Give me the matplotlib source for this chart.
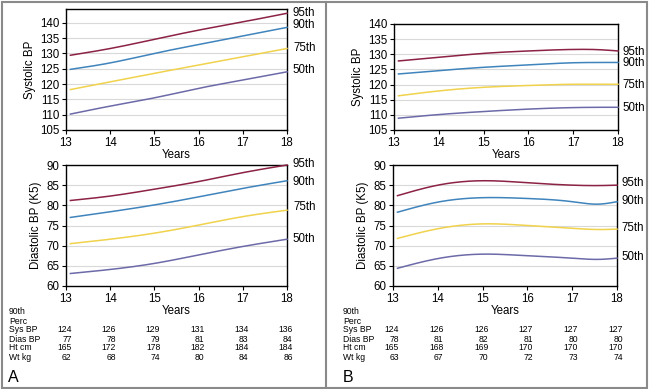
import numpy as np
import matplotlib
matplotlib.use('Agg')
import matplotlib.pyplot as plt
from matplotlib import transforms
from matplotlib.lines import Line2D

plt.rcParams['font.family'] = ['Liberation Sans', 'DejaVu Sans']

# ---- data ----
PERCENTILES = ['95th', '90th', '75th', '50th']
COLORS = ['#8c2244', '#3f84bc', '#f0d24c', '#6c6aa8']

AGES_A = [13.1, 14, 15, 16, 17, 18]
SYS_A = [
    [129.4, 131.6, 134.6, 137.6, 140.3, 143.1],
    [124.8, 126.9, 130.0, 132.9, 135.7, 138.5],
    [118.2, 120.7, 123.5, 126.2, 128.9, 131.6],
    [110.2, 112.8, 115.5, 118.6, 121.3, 124.0],
]
DIA_A = [
    [81.2, 82.3, 84.0, 85.9, 88.1, 90.0],
    [77.0, 78.4, 80.1, 82.1, 84.2, 86.1],
    [70.5, 71.6, 73.1, 75.1, 77.2, 78.8],
    [63.1, 64.1, 65.6, 67.7, 69.8, 71.6],
]

AGES_B = [13.1, 14, 15, 16, 17, 17.6, 18]
SYS_B = [
    [127.8, 129.0, 130.3, 131.1, 131.6, 131.5, 131.1],
    [123.5, 124.6, 125.7, 126.5, 127.2, 127.3, 127.3],
    [116.3, 117.9, 119.1, 119.7, 120.1, 120.1, 120.1],
    [108.9, 110.1, 111.1, 111.9, 112.4, 112.5, 112.5],
]
DIA_B = [
    [82.4, 85.0, 86.1, 85.6, 85.0, 84.9, 85.0],
    [78.3, 80.8, 81.9, 81.7, 80.9, 80.3, 80.9],
    [71.8, 74.2, 75.4, 75.0, 74.3, 74.0, 74.1],
    [64.4, 66.8, 67.9, 67.5, 66.9, 66.6, 66.9],
]

# label heights of the percentile names to the right of each panel
LBL_SYS_A = [143.2, 139.2, 131.7, 124.5]
LBL_DIA_A = [90.2, 85.9, 79.6, 71.7]
LBL_SYS_B = [130.8, 127.2, 119.9, 112.4]
LBL_DIA_B = [85.5, 81.0, 74.4, 67.1]

TABLE_YEARS = [13, 14, 15, 16, 17, 18]
ROW_NAMES = ['Sys BP', 'Dias BP', 'Ht cm', 'Wt kg']
TABLE_A = [
    [124, 126, 129, 131, 134, 136],
    [77, 78, 79, 81, 83, 84],
    [165, 172, 178, 182, 184, 184],
    [62, 68, 74, 80, 84, 86],
]
TABLE_B = [
    [124, 126, 126, 127, 127, 127],
    [78, 81, 82, 81, 80, 80],
    [165, 168, 169, 170, 170, 170],
    [63, 67, 70, 72, 73, 74],
]

FS = 8.3     # ticks, axis labels, percentile names
FS_TAB = 6.2  # table below the charts


def smooth(x, y, n=200):
    """Natural cubic spline through the points, for drawing only."""
    x = np.asarray(x, float)
    y = np.asarray(y, float)
    k = len(x)
    h = np.diff(x)
    A = np.zeros((k, k))
    r = np.zeros(k)
    A[0, 0] = A[-1, -1] = 1
    for i in range(1, k - 1):
        A[i, i - 1] = h[i - 1]
        A[i, i] = 2 * (h[i - 1] + h[i])
        A[i, i + 1] = h[i]
        r[i] = 6 * ((y[i + 1] - y[i]) / h[i] - (y[i] - y[i - 1]) / h[i - 1])
    M = np.linalg.solve(A, r)
    xs = np.linspace(x[0], x[-1], n)
    idx = np.clip(np.searchsorted(x, xs) - 1, 0, k - 2)
    x0, x1 = x[idx], x[idx + 1]
    hh = x1 - x0
    a = (x1 - xs) / hh
    b = (xs - x0) / hh
    ys = (a * y[idx] + b * y[idx + 1]
          + ((a ** 3 - a) * M[idx] + (b ** 3 - b) * M[idx + 1]) * hh ** 2 / 6)
    return xs, ys


def draw_panel(ax, ages, series, label_y, ylim, yticks, ylabel, lbl_dx):
    for vals, c in zip(series, COLORS):
        xs, ys = smooth(ages, vals)
        ax.plot(xs, ys, color=c, lw=1.1, zorder=3, clip_on=False)
    for t in yticks[1:]:
        ax.axhline(t, color='#d9d9d9', lw=0.8, zorder=1)
    for name, yv in zip(PERCENTILES, label_y):
        ax.text(1 + lbl_dx, yv, name, transform=ax.get_yaxis_transform(),
                fontsize=FS, va='center', ha='left')
    ax.set_xlim(13, 18)
    ax.set_ylim(*ylim)
    ax.set_xticks(range(13, 19))
    ax.set_yticks(yticks)
    ax.tick_params(labelsize=FS, length=3, width=0.8, pad=2)
    for s in ax.spines.values():
        s.set_linewidth(1.0)
    ax.set_ylabel(ylabel, fontsize=FS, labelpad=3)
    ax.set_xlabel('Years', fontsize=FS, labelpad=0)


def draw_table(fig, ax, table, label_x):
    tr = transforms.blended_transform_factory(ax.transData, fig.transFigure)
    fig.text(label_x, 1 - 312 / 389, '90th', fontsize=FS_TAB, va='center')
    fig.text(label_x, 1 - 321 / 389, 'Perc', fontsize=FS_TAB, va='center')
    for i, (name, row) in enumerate(zip(ROW_NAMES, table)):
        yy = 1 - (330 + 9 * i) / 389
        fig.text(label_x, yy, name, fontsize=FS_TAB, va='center')
        for yr, v in zip(TABLE_YEARS, row):
            ax.text(yr + 0.13, yy, str(v), transform=tr, fontsize=FS_TAB,
                    va='center', ha='right', clip_on=False)


W, H = 650, 389
fig = plt.figure(figsize=(6.5, 3.89), dpi=100)

axA1 = fig.add_axes([66 / W, 1 - 130 / H, 221 / W, 121 / H])
axA2 = fig.add_axes([66 / W, 1 - 286 / H, 221 / W, 121 / H])
axB1 = fig.add_axes([394 / W, 1 - 130 / H, 224 / W, 106 / H])
axB2 = fig.add_axes([393 / W, 1 - 286 / H, 224 / W, 121 / H])

sys_ticks = list(range(105, 141, 5))
dia_ticks = list(range(60, 91, 5))
draw_panel(axA1, AGES_A, SYS_A, LBL_SYS_A, (105, 144.5), sys_ticks, 'Systolic BP', 0.027)
draw_panel(axA2, AGES_A, DIA_A, LBL_DIA_A, (60, 90), dia_ticks, 'Diastolic BP (K5)', 0.027)
draw_panel(axB1, AGES_B, SYS_B, LBL_SYS_B, (105, 140), sys_ticks, 'Systolic BP', 0.022)
draw_panel(axB2, AGES_B, DIA_B, LBL_DIA_B, (60, 90), dia_ticks, 'Diastolic BP (K5)', 0.022)

draw_table(fig, axA2, TABLE_A, 9 / W)
draw_table(fig, axB2, TABLE_B, 343 / W)

fig.text(8 / W, 1 - 377 / H, 'A', fontsize=11.5, va='center')
fig.text(343 / W, 1 - 377 / H, 'B', fontsize=11.5, va='center')

# outer frame and divider
frame = plt.Rectangle((2 / W, 1.5 / H), 645 / W, 386 / H, transform=fig.transFigure,
                      fill=False, edgecolor='#8a8a8a', lw=1.5)
fig.add_artist(frame)
fig.add_artist(Line2D([326 / W, 326 / W], [1.5 / H, 387.5 / H], transform=fig.transFigure,
                      color='#8a8a8a', lw=1.5))

fig.savefig('out.png', dpi=100)
